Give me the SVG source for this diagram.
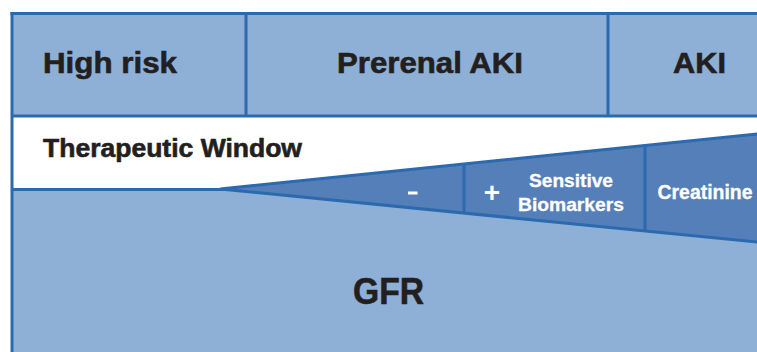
<svg xmlns="http://www.w3.org/2000/svg" width="757" height="352" viewBox="0 0 757 352">
<style>
.light{fill:#8EB0D6}
.ln{stroke:#2B6AAE;stroke-width:3;fill:none}
.t{font-family:"Liberation Sans",Arial,sans-serif;font-weight:bold;fill:#231F20;stroke:#231F20;stroke-width:0.6}
.w{font-family:"Liberation Sans",Arial,sans-serif;font-weight:bold;fill:#FFFFFF;stroke:#FFFFFF;stroke-width:0.3}
</style>
<rect x="0" y="0" width="757" height="352" fill="#FFFFFF"/>
<g id="background">
<rect class="light" x="12" y="13" width="745" height="103"/>
<rect x="12" y="116" width="745" height="73" fill="#FFFFFF"/>
<rect class="light" x="12" y="189" width="745" height="163"/>
</g>
<g id="connectors">
<line class="ln" x1="10.5" y1="13.5" x2="757" y2="13.5"/>
<line class="ln" x1="12" y1="12" x2="12" y2="352"/>
<line class="ln" x1="12" y1="116" x2="757" y2="116"/>
<line class="ln" x1="246" y1="13" x2="246" y2="116"/>
<line class="ln" x1="608" y1="13" x2="608" y2="116"/>
<line class="ln" x1="12" y1="189.5" x2="230" y2="189.5"/>
</g>
<g id="wedge">
<polygon points="220,189 760,133.7 760,242.3" fill="#557FB9" stroke="#2B6AAE" stroke-width="3" stroke-linejoin="miter"/>
<line class="ln" x1="464" y1="164" x2="464" y2="213"/>
<line class="ln" x1="645" y1="145.5" x2="645" y2="231"/>
</g>
<g id="high-risk"><text class="t" x="43" y="73" font-size="29" textLength="134" lengthAdjust="spacingAndGlyphs">High risk</text></g>
<g id="prerenal-aki"><text class="t" x="337" y="73" font-size="29" textLength="186" lengthAdjust="spacingAndGlyphs">Prerenal AKI</text></g>
<g id="aki"><text class="t" x="673" y="73" font-size="29" textLength="53" lengthAdjust="spacingAndGlyphs">AKI</text></g>
<g id="therapeutic-window"><text class="t" x="43" y="157" font-size="25" textLength="259" lengthAdjust="spacingAndGlyphs">Therapeutic Window</text></g>
<g id="gfr"><text class="t" x="353" y="303.5" font-size="37" textLength="71" lengthAdjust="spacingAndGlyphs">GFR</text></g>
<g id="minus"><rect x="408" y="191.5" width="9.5" height="3" fill="#FFFFFF"/></g>
<g id="plus"><text class="w" x="492" y="202" font-size="28" text-anchor="middle" style="stroke-width:0">+</text></g>
<g id="sensitive-biomarkers">
<text class="w" x="571" y="187" font-size="19" text-anchor="middle" textLength="84" lengthAdjust="spacingAndGlyphs">Sensitive</text>
<text class="w" x="571" y="211" font-size="19" text-anchor="middle" textLength="106" lengthAdjust="spacingAndGlyphs">Biomarkers</text>
</g>
<g id="creatinine"><text class="w" x="705" y="199" font-size="19.5" text-anchor="middle" textLength="95" lengthAdjust="spacingAndGlyphs">Creatinine</text></g>
</svg>
